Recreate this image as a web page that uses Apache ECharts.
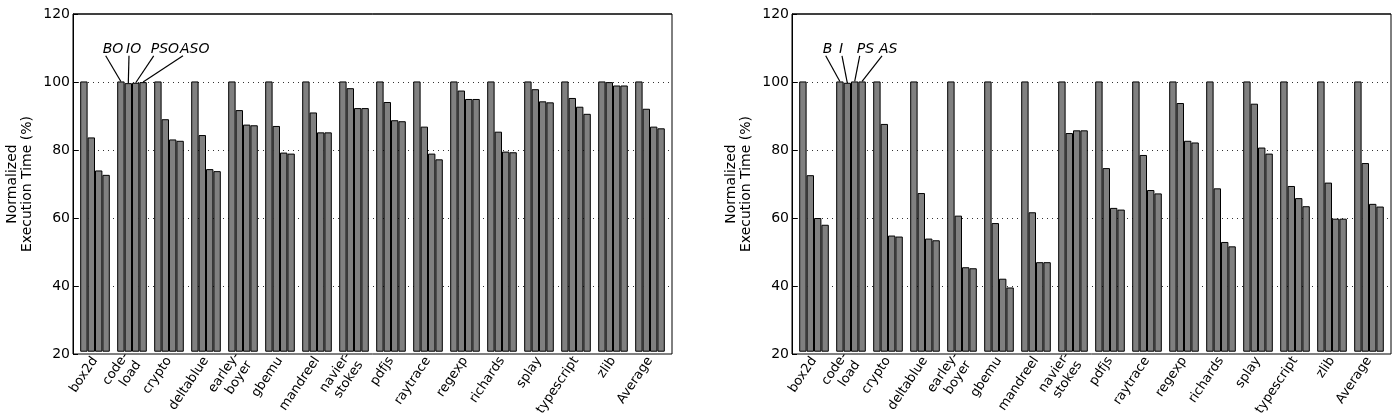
<!DOCTYPE html>
<html>
<head>
<meta charset="utf-8">
<script src="https://cdn.jsdelivr.net/npm/echarts@6/dist/echarts.min.js"></script>
<style>
	html, body { margin: 0; padding: 0; background: #fff; }
	#chart { width: 1400px; height: 419px; }
</style>
</head>
<body>
<div id="chart"></div>
<script>
	// benchmark names (shared by both panels)
	var categories = ["box2d", "code-\nload", "crypto", "deltablue", "earley-\nboyer", "gbemu", "mandreel",
		"navier-\nstokes", "pdfjs", "raytrace", "regexp", "richards", "splay", "typescript", "zlib", "Average"];

	var yTicks = [20, 40, 60, 80, 100, 120];

	// left panel
	var leftNames = ["BO", "IO", "PSO", "ASO"];
	var leftBO = [100, 100, 100, 100, 100, 100, 100, 100, 100, 100, 100, 100, 100, 100, 100, 100];
	var leftIO = [83.4, 99.5, 88.8, 84.1, 91.5, 86.8, 90.8, 98.0, 93.9, 86.6, 97.3, 85.1, 97.7, 95.1, 99.8, 91.9];
	var leftPSO = [73.6, 99.6, 82.8, 74.0, 87.2, 78.9, 84.9, 92.1, 88.5, 78.6, 94.8, 79.2, 94.1, 92.5, 98.8, 86.6];
	var leftASO = [72.3, 99.8, 82.4, 73.4, 87.0, 78.6, 84.9, 92.1, 88.2, 76.9, 94.8, 79.0, 93.8, 90.4, 98.8, 86.1];

	// right panel
	var rightNames = ["B", "I", "PS", "AS"];
	var rightB = [100, 100, 100, 100, 100, 100, 100, 100, 100, 100, 100, 100, 100, 100, 100, 100];
	var rightI = [72.2, 99.6, 87.4, 66.9, 60.2, 58.0, 61.2, 84.7, 74.3, 78.2, 93.6, 68.3, 93.4, 69.0, 70.0, 75.8];
	var rightPS = [59.5, 100, 54.3, 53.4, 44.9, 41.5, 46.4, 85.5, 62.5, 67.8, 82.4, 52.4, 80.4, 65.4, 59.3, 63.7];
	var rightAS = [57.5, 100, 54.0, 52.9, 44.6, 38.9, 46.4, 85.5, 62.0, 66.8, 81.9, 51.1, 78.6, 63.0, 59.3, 62.9];

	var FONT = "DejaVu Sans";
	var chart = echarts.init(document.getElementById("chart"), null, {renderer: "canvas"});

	// frame grids (0, 2) carry the y axis and the box; bar grids (1, 3) are inset like matplotlib's xlim
	var panels = [
		{left: 73, names: leftNames, series: [leftBO, leftIO, leftPSO, leftASO]},
		{left: 792, names: rightNames, series: [rightB, rightI, rightPS, rightAS]}
	];

	var grids = [], xAxes = [], yAxes = [], series = [];
	panels.forEach(function (p, pi) {
		var frame = pi * 2, bars = pi * 2 + 1;
		grids.push({left: p.left, top: 14, width: 599, height: 340, show: true,
			borderColor: "#000", borderWidth: 1, backgroundColor: "transparent"});
		grids.push({left: p.left + 3.5, top: 14, width: 592, height: 340});

		xAxes.push({gridIndex: frame, type: "value", min: 0, max: 1, show: false});
		xAxes.push({
			gridIndex: bars, type: "category", data: categories, boundaryGap: true,
			axisLine: {show: false}, axisTick: {show: false},
			axisLabel: {interval: 0, rotate: 56, margin: 7, color: "#000", fontFamily: FONT, fontSize: 13, lineHeight: 15}
		});

		yAxes.push({
			gridIndex: frame, type: "value", min: yTicks[0], max: yTicks[yTicks.length - 1], interval: 20,
			name: "Normalized\nExecution Time (%)", nameLocation: "middle", nameGap: 38,
			nameTextStyle: {color: "#000", fontFamily: FONT, fontSize: 14, lineHeight: 15},
			axisLine: {show: true, lineStyle: {color: "#000", width: 1}},
			axisTick: {show: true, inside: true, length: 5, lineStyle: {color: "#000"}},
			axisLabel: {color: "#000", fontFamily: FONT, fontSize: 14, margin: 3},
			splitLine: {show: true, showMinLine: false, showMaxLine: false,
				lineStyle: {color: "#333", width: 1, type: [1, 4]}}
		});
		yAxes.push({gridIndex: bars, type: "value", min: yTicks[0], max: yTicks[yTicks.length - 1], show: false});

		p.series.forEach(function (vals, k) {
			series.push({
				type: "bar", name: p.names[k], xAxisIndex: bars, yAxisIndex: bars,
				data: vals, barGap: "0%", barCategoryGap: "20%",
				itemStyle: {color: "#808080", borderColor: "#000", borderWidth: 1},
				silent: true, animation: false
			});
		});
	});

	chart.setOption({
		animation: false,
		backgroundColor: "#fff",
		grid: grids,
		xAxis: xAxes,
		yAxis: yAxes,
		series: series
	});

	// annotation labels pointing at the code-load bars (text offsets from the category centre, px)
	var labelOffsets = [[-29.3, -6, 18.7, 48], [-28.3, -12, 5.7, 28]];
	var graphics = [];
	panels.forEach(function (p, pi) {
		var frame = pi * 2, bars = pi * 2 + 1;
		var c0 = chart.convertToPixel({xAxisIndex: bars}, 0);
		var c1 = chart.convertToPixel({xAxisIndex: bars}, 1);
		var catW = c1 - c0;
		var bw = catW * 0.8 / 4;
		var textY = chart.convertToPixel({yAxisIndex: bars}, 109.5);
		var lineY = chart.convertToPixel({yAxisIndex: bars}, 107.6);
		p.names.forEach(function (nm, k) {
			var v = p.series[k][1];
			var bx = c1 - catW * 0.4 + bw * (k + 0.5);
			var by = chart.convertToPixel({yAxisIndex: bars}, v);
			var tx = c1 + labelOffsets[pi][k];
			graphics.push({
				type: "text", x: tx, y: textY, silent: true,
				style: {text: nm, fill: "#000", font: "italic 14px '" + FONT + "'", textAlign: "left", textVerticalAlign: "middle"}
			});
			graphics.push({
				type: "line", silent: true,
				shape: {x1: tx + 3, y1: lineY, x2: bx, y2: by},
				style: {stroke: "#000", lineWidth: 1.2}
			});
		});
		// solid top edge of the frame
		var yTop = chart.convertToPixel({yAxisIndex: frame}, yTicks[yTicks.length - 1]);
		graphics.push({
			type: "line", silent: true, z: 10,
			shape: {x1: p.left, y1: yTop, x2: p.left + 599, y2: yTop},
			style: {stroke: "#000", lineWidth: 1}
		});
	});
	chart.setOption({graphic: graphics});
</script>
</body>
</html>
